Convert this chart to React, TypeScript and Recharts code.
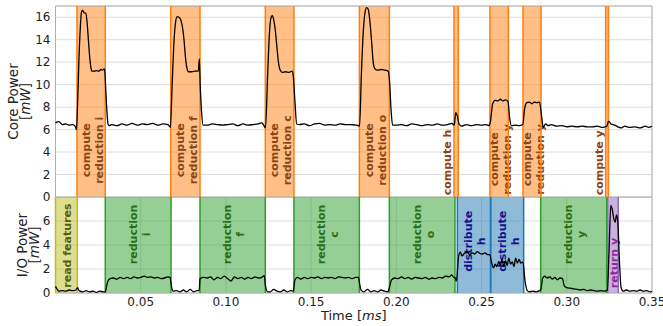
import React from 'react';
import {
  LineChart,
  Line,
  XAxis,
  YAxis,
  CartesianGrid,
  ReferenceArea,
  ReferenceLine,
} from 'recharts';

// time [ms] vs core power [mW]
const coreSeries: [number, number][] = [
  [0, 6.6], [0.002, 6.7], [0.004, 6.45], [0.006, 6.5], [0.008, 6.4], [0.01, 6.45], [0.0115, 6.3], [0.0123, 6.0],
  [0.0128, 7.5], [0.0137, 12.0], [0.0146, 15.2], [0.0153, 16.5], [0.016, 16.6], [0.0168, 16.4], [0.0178, 16.35],
  [0.0185, 15.6], [0.0193, 14.0], [0.0201, 12.4], [0.0208, 11.5], [0.0215, 11.2], [0.0228, 11.2], [0.024, 11.25],
  [0.0255, 11.2], [0.0266, 11.35], [0.0276, 11.3], [0.0286, 11.4], [0.029, 11.1], [0.0294, 9.8], [0.0301, 7.8],
  [0.0308, 6.5], [0.0315, 6.35], [0.033, 6.45], [0.036, 6.35], [0.039, 6.5], [0.042, 6.4], [0.045, 6.55],
  [0.048, 6.4], [0.051, 6.5], [0.054, 6.45], [0.057, 6.55], [0.06, 6.4], [0.063, 6.5], [0.066, 6.45], [0.0674, 6.2],
  [0.0684, 9.8], [0.0694, 13.5], [0.0704, 15.5], [0.0714, 16.05], [0.0724, 16.0], [0.0734, 15.8], [0.0744, 15.2],
  [0.0754, 14.0], [0.0764, 12.2], [0.0774, 11.3], [0.078, 11.15], [0.08, 11.15], [0.082, 11.2], [0.0838, 11.2],
  [0.0844, 12.3], [0.0849, 10.0], [0.0857, 7.6], [0.0866, 6.4], [0.089, 6.4], [0.092, 6.5], [0.095, 6.45],
  [0.098, 6.4], [0.101, 6.45], [0.104, 6.5], [0.107, 6.35], [0.11, 6.5], [0.113, 6.4], [0.116, 6.45], [0.119, 6.5],
  [0.121, 6.6], [0.1225, 6.3], [0.1232, 6.15], [0.1245, 11.0], [0.1255, 14.5], [0.1265, 16.0], [0.1272, 16.15],
  [0.128, 15.8], [0.129, 14.8], [0.13, 13.2], [0.131, 11.8], [0.1318, 11.3], [0.133, 11.1], [0.135, 11.15],
  [0.137, 11.1], [0.1388, 11.2], [0.1395, 10.8], [0.1405, 8.5], [0.1415, 6.5], [0.143, 6.45], [0.146, 6.5],
  [0.149, 6.35], [0.152, 6.5], [0.155, 6.55], [0.158, 6.4], [0.161, 6.45], [0.164, 6.4], [0.167, 6.5], [0.17, 6.45],
  [0.173, 6.45], [0.176, 6.4], [0.1778, 6.35], [0.1784, 6.3], [0.1795, 11.0], [0.1805, 14.5], [0.1815, 16.3],
  [0.1825, 16.85], [0.1835, 16.7], [0.1845, 15.6], [0.1855, 13.8], [0.1865, 11.9], [0.1875, 11.4], [0.189, 11.3],
  [0.191, 11.35], [0.193, 11.3], [0.1952, 11.2], [0.196, 10.3], [0.197, 7.5], [0.1978, 6.4], [0.2, 6.4],
  [0.203, 6.45], [0.206, 6.35], [0.209, 6.5], [0.212, 6.45], [0.215, 6.35], [0.218, 6.45], [0.221, 6.4],
  [0.224, 6.5], [0.227, 6.4], [0.23, 6.45], [0.2325, 6.55], [0.234, 6.4], [0.2348, 7.5], [0.2358, 7.2],
  [0.2368, 6.5], [0.2383, 6.3], [0.241, 6.45], [0.244, 6.35], [0.247, 6.45], [0.25, 6.4], [0.2525, 6.45],
  [0.2545, 6.35], [0.2552, 6.7], [0.2565, 8.3], [0.258, 8.6], [0.2595, 8.55], [0.261, 8.7], [0.2625, 8.55],
  [0.264, 8.65], [0.2655, 8.5], [0.2665, 7.0], [0.2675, 6.35], [0.27, 6.4], [0.272, 6.35], [0.2742, 6.45],
  [0.2752, 7.8], [0.2765, 8.4], [0.278, 8.45], [0.2795, 8.3], [0.281, 8.45], [0.2825, 8.4], [0.284, 8.45],
  [0.2852, 7.2], [0.2862, 6.2], [0.2875, 6.5], [0.289, 6.35], [0.291, 6.45], [0.294, 6.3], [0.297, 6.35],
  [0.3, 6.25], [0.303, 6.3], [0.306, 6.25], [0.309, 6.3], [0.312, 6.25], [0.315, 6.25], [0.318, 6.3], [0.321, 6.2],
  [0.3235, 6.3], [0.3245, 6.75], [0.326, 6.5], [0.328, 6.4], [0.33, 6.25], [0.332, 6.15], [0.334, 6.3],
  [0.337, 6.2], [0.34, 6.25], [0.343, 6.15], [0.346, 6.3], [0.348, 6.2], [0.35, 6.3],
];

// time [ms] vs I/O power [mW]
const ioSeries: [number, number][] = [
  [0, 0.55], [0.001, 0.3], [0.002, 0.15], [0.004, 0.2], [0.006, 0.15], [0.008, 0.25], [0.01, 0.2], [0.012, 0.25],
  [0.013, 0.45], [0.0138, 0.2], [0.016, 0.1], [0.018, 0.2], [0.02, 0.1], [0.022, 0.15], [0.024, 0.05], [0.026, 0.15],
  [0.028, 0.1], [0.0292, 0.1], [0.0305, 0.9], [0.032, 1.2], [0.034, 1.25], [0.036, 1.15], [0.038, 1.3], [0.04, 1.2],
  [0.042, 1.3], [0.044, 1.2], [0.046, 1.35], [0.048, 1.25], [0.05, 1.3], [0.052, 1.4], [0.054, 1.3], [0.056, 1.35],
  [0.058, 1.25], [0.06, 1.3], [0.062, 1.2], [0.064, 1.25], [0.066, 1.35], [0.0672, 1.3], [0.068, 0.6], [0.069, 0.15],
  [0.071, 0.2], [0.073, 0.1], [0.075, 0.25], [0.077, 0.1], [0.079, 0.3], [0.081, 0.1], [0.083, 0.2], [0.0843, 0.2],
  [0.0848, 1.2], [0.087, 1.3], [0.089, 1.25], [0.091, 1.35], [0.093, 1.1], [0.095, 1.3], [0.097, 1.2], [0.099, 1.4],
  [0.101, 1.2], [0.103, 1.0], [0.105, 1.35], [0.107, 1.2], [0.109, 1.3], [0.111, 1.15], [0.113, 1.3], [0.115, 1.2],
  [0.117, 1.35], [0.119, 1.25], [0.121, 1.3], [0.1225, 1.45], [0.1232, 0.6], [0.1245, 0.1], [0.126, 0.1],
  [0.128, 0.3], [0.13, 0.15], [0.132, 0.1], [0.134, 0.25], [0.136, 0.1], [0.138, 0.2], [0.1395, 0.15],
  [0.1405, 1.1], [0.142, 1.3], [0.144, 1.15], [0.146, 1.3], [0.148, 1.2], [0.15, 1.3], [0.152, 1.25], [0.154, 1.35],
  [0.156, 1.2], [0.158, 1.3], [0.16, 1.25], [0.162, 1.3], [0.164, 1.2], [0.166, 1.35], [0.168, 1.3], [0.17, 1.25],
  [0.172, 1.3], [0.174, 1.2], [0.176, 1.3], [0.1778, 1.3], [0.1785, 0.7], [0.1795, 0.2], [0.181, 0.1], [0.183, 0.3],
  [0.185, 0.1], [0.187, 0.2], [0.189, 0.1], [0.191, 0.25], [0.193, 0.15], [0.195, 0.1], [0.1958, 0.4],
  [0.1972, 1.1], [0.199, 1.25], [0.201, 1.2], [0.203, 1.35], [0.205, 1.2], [0.207, 1.3], [0.209, 1.15], [0.211, 1.3],
  [0.213, 1.25], [0.215, 1.2], [0.217, 1.3], [0.219, 1.15], [0.221, 1.25], [0.223, 1.2], [0.225, 1.3], [0.227, 1.25],
  [0.229, 1.4], [0.231, 1.35], [0.2325, 1.5], [0.2338, 1.3], [0.2345, 1.25], [0.2352, 1.0], [0.2365, 3.0],
  [0.2375, 3.4], [0.2385, 3.1], [0.24, 3.3], [0.2415, 3.4], [0.243, 3.2], [0.2445, 3.35], [0.246, 3.25],
  [0.2475, 3.45], [0.249, 3.3], [0.2505, 3.25], [0.252, 3.35], [0.2535, 3.2], [0.2548, 3.2], [0.2558, 2.6],
  [0.257, 2.1], [0.258, 2.4], [0.259, 2.2], [0.26, 2.6], [0.261, 2.3], [0.262, 2.8], [0.263, 2.2], [0.264, 2.7],
  [0.265, 2.3], [0.266, 2.9], [0.267, 2.4], [0.268, 2.6], [0.269, 2.2], [0.27, 2.9], [0.271, 2.5], [0.272, 2.8],
  [0.273, 2.5], [0.2742, 2.6], [0.2755, 1.0], [0.2768, 0.2], [0.278, 0.1], [0.28, 0.15], [0.282, 0.1], [0.284, 0.2],
  [0.2848, 0.3], [0.2858, 1.2], [0.287, 1.4], [0.2885, 1.25], [0.29, 1.35], [0.2915, 1.15], [0.293, 1.3],
  [0.2945, 1.1], [0.296, 1.25], [0.2975, 1.2], [0.2985, 0.6], [0.3, 0.45], [0.302, 0.4], [0.304, 0.35],
  [0.306, 0.3], [0.308, 0.25], [0.31, 0.3], [0.312, 0.2], [0.314, 0.25], [0.316, 0.2], [0.318, 0.15], [0.32, 0.2],
  [0.322, 0.15], [0.3238, 0.25], [0.3248, 3.5], [0.3258, 7.3], [0.3266, 7.0], [0.3276, 6.2], [0.3284, 5.9],
  [0.3292, 6.5], [0.3299, 6.0], [0.3308, 3.0], [0.3318, 0.5], [0.333, 0.15], [0.335, 0.25], [0.337, 0.15],
  [0.339, 0.2], [0.341, 0.15], [0.343, 0.25], [0.345, 0.15], [0.347, 0.2], [0.349, 0.1], [0.35, 0.15],
];

const xTicks = [0.05, 0.1, 0.15, 0.2, 0.25, 0.3, 0.35];
const coreTicks = [0, 2, 4, 6, 8, 10, 12, 14, 16];
const ioTicks = [0, 2, 4, 6];

const computeSpans = [
  { label: ['compute', 'reduction i'], start: 0.0126, end: 0.0292 },
  { label: ['compute', 'reduction f'], start: 0.0676, end: 0.0848 },
  { label: ['compute', 'reduction c'], start: 0.1231, end: 0.1399 },
  { label: ['compute', 'reduction o'], start: 0.1783, end: 0.1959 },
  { label: ['compute h'], start: 0.2338, end: 0.2363 },
  { label: ['compute', 'reduction y'], start: 0.2549, end: 0.2657 },
  { label: ['compute', 'reduction y'], start: 0.2743, end: 0.2849 },
  { label: ['compute y'], start: 0.3228, end: 0.3244 },
];

const ioSpans = [
  { label: ['read features'], start: 0, end: 0.0128, kind: 'read' },
  { label: ['reduction', 'i'], start: 0.0292, end: 0.0678, kind: 'reduction' },
  { label: ['reduction', 'f'], start: 0.0848, end: 0.1231, kind: 'reduction' },
  { label: ['reduction', 'c'], start: 0.1399, end: 0.1783, kind: 'reduction' },
  { label: ['reduction', 'o'], start: 0.1959, end: 0.2344, kind: 'reduction' },
  { label: ['distribute', 'h'], start: 0.2358, end: 0.2553, kind: 'distribute' },
  { label: ['distribute', 'h'], start: 0.2553, end: 0.2747, kind: 'distribute' },
  { label: ['reduction', 'y'], start: 0.2847, end: 0.3234, kind: 'reduction' },
  { label: ['return y'], start: 0.324, end: 0.3302, kind: 'return' },
];

// where the span labels sit (in y-axis units) and whether they sit beside the span
const computeLabelAt = [4.16, 4.16, 4.16, 4.16, 0.15, 3.35, 3.35, 0.15];
const computeLabelBeside = [false, false, false, false, true, false, false, true];
const ioLabelAt = [3.95, 4.88, 4.88, 4.88, 4.88, 4.31, 4.31, 4.88, 2.5];

const kindStyle: Record<string, { fill: string; text: string }> = {
  compute: { fill: '#ff7f0e', text: '#8b4513' },
  read: { fill: '#bcbd22', text: '#5a5a12' },
  reduction: { fill: '#2ca02c', text: '#2b6e14' },
  distribute: { fill: '#1f77b4', text: '#12128f' },
  return: { fill: '#9467bd', text: '#8a2a9e' },
};

const FONT = 'DejaVu Sans, sans-serif';
const CORE_MAX = 17;
const IO_MAX = 8;
const coreData = coreSeries.map(([t, v]) => ({ t, v }));
const ioData = ioSeries.map(([t, v]) => ({ t, v }));

const SpanText = (props: any) => {
  const { viewBox, lines, color, at, ymax, beside } = props;
  if (!viewBox) return null;
  const { x, y, width, height } = viewBox;
  const cy = y + height * (1 - at / ymax);
  const base = beside ? x - 3 : x + width / 2;
  const step = 13;
  return (
    <text
      transform={`rotate(-90 ${base} ${cy})`}
      textAnchor={beside ? 'start' : 'middle'}
      fill={color}
      fontSize={11}
      fontWeight="bold"
      fontFamily={FONT}
    >
      {lines.map((l: string, i: number) => (
        <tspan key={i} x={base} y={cy + (beside ? 0 : (i - (lines.length - 1) / 2) * step + 5)}>
          {l}
        </tspan>
      ))}
    </text>
  );
};

const YTitle = (props: any) => {
  const { viewBox, first, x1, x2 } = props;
  if (!viewBox) return null;
  const cy = viewBox.y + viewBox.height / 2;
  return (
    <g fontFamily={FONT} fontSize={13.5} fill="#222">
      <text transform={`rotate(-90 ${x1} ${cy})`} x={x1} y={cy} textAnchor="middle">{first}</text>
      <text transform={`rotate(-90 ${x2} ${cy})`} x={x2} y={cy} textAnchor="middle">
        [<tspan fontStyle="italic">mW</tspan>]
      </text>
    </g>
  );
};

const XTitle = (props: any) => {
  const { viewBox } = props;
  if (!viewBox) return null;
  const cx = viewBox.x + viewBox.width / 2;
  return (
    <text x={cx} y={viewBox.y + 27} textAnchor="middle" fontFamily={FONT} fontSize={13} fill="#222">
      Time [<tspan fontStyle="italic">ms</tspan>]
    </text>
  );
};

const tickStyle = { fill: '#222', fontSize: 12, fontFamily: FONT };

export default function App() {
  return (
    <div style={{ position: 'absolute', left: 0, top: 0, width: 663, height: 326, background: '#fff' }}>
      <div style={{ position: 'absolute', left: 0, top: 0 }}>
        <LineChart width={663} height={206} data={coreData} margin={{ top: 6, right: 11, bottom: 9, left: 0 }}>
          <CartesianGrid stroke="#dddddd" />
          <XAxis type="number" dataKey="t" domain={[0, 0.35]} ticks={xTicks} height={0} tick={false} axisLine={false} tickLine={false} />
          <YAxis
            domain={[0, CORE_MAX]}
            ticks={coreTicks}
            interval={0}
            width={55.5}
            axisLine={false}
            tickLine={false}
            tickSize={3}
            tickMargin={2}
            tick={tickStyle}
            label={<YTitle first="Core Power" x1={18} x2={30} />}
          />
          {computeSpans.map((s, i) => (
            <ReferenceArea
              key={`ca${i}`}
              x1={s.start}
              x2={s.end}
              fill={kindStyle.compute.fill}
              fillOpacity={0.5}
              stroke="none"
              label={
                <SpanText
                  lines={s.label}
                  color={kindStyle.compute.text}
                  at={computeLabelAt[i]}
                  ymax={CORE_MAX}
                  beside={computeLabelBeside[i]}
                />
              }
            />
          ))}
          {computeSpans.flatMap((s, i) => [
            <ReferenceLine key={`cl${i}a`} x={s.start} stroke={kindStyle.compute.fill} strokeWidth={1.5} />,
            <ReferenceLine key={`cl${i}b`} x={s.end} stroke={kindStyle.compute.fill} strokeWidth={1.5} />,
          ])}
          <Line type="monotone" dataKey="v" stroke="#000" strokeWidth={1.3} dot={false} isAnimationActive={false} />
          <ReferenceArea x1={0} x2={0.35} y1={0} y2={CORE_MAX} fill="none" stroke="#b0b0b0" strokeWidth={1} />
        </LineChart>
      </div>
      <div style={{ position: 'absolute', left: 0, top: 197 }}>
        <LineChart width={663} height={129} data={ioData} margin={{ top: 0, right: 11, bottom: 0, left: 0 }}>
          <CartesianGrid stroke="#dddddd" />
          <XAxis
            type="number"
            dataKey="t"
            domain={[0, 0.35]}
            ticks={xTicks}
            interval={0}
            height={33}
            axisLine={false}
            tickLine={false}
            tickSize={3}
            tickMargin={1.5}
            tick={tickStyle}
            tickFormatter={(v: number) => v.toFixed(2)}
            label={<XTitle />}
          />
          <YAxis
            domain={[0, IO_MAX]}
            ticks={ioTicks}
            interval={0}
            width={55.5}
            axisLine={false}
            tickLine={false}
            tickSize={3}
            tickMargin={2}
            tick={tickStyle}
            label={<YTitle first="I/O Power" x1={27} x2={39} />}
          />
          {ioSpans.map((s, i) => (
            <ReferenceArea
              key={`ia${i}`}
              x1={s.start}
              x2={s.end}
              fill={kindStyle[s.kind].fill}
              fillOpacity={0.5}
              stroke="none"
              label={
                <SpanText lines={s.label} color={kindStyle[s.kind].text} at={ioLabelAt[i]} ymax={IO_MAX} beside={false} />
              }
            />
          ))}
          {ioSpans.flatMap((s, i) => [
            <ReferenceLine key={`il${i}a`} x={s.start} stroke={kindStyle[s.kind].fill} strokeWidth={1.5} />,
            <ReferenceLine key={`il${i}b`} x={s.end} stroke={kindStyle[s.kind].fill} strokeWidth={1.5} />,
          ])}
          <Line type="monotone" dataKey="v" stroke="#000" strokeWidth={1.3} dot={false} isAnimationActive={false} />
          <ReferenceArea x1={0} x2={0.35} y1={0} y2={IO_MAX} fill="none" stroke="#b0b0b0" strokeWidth={1} />
        </LineChart>
      </div>
    </div>
  );
}
